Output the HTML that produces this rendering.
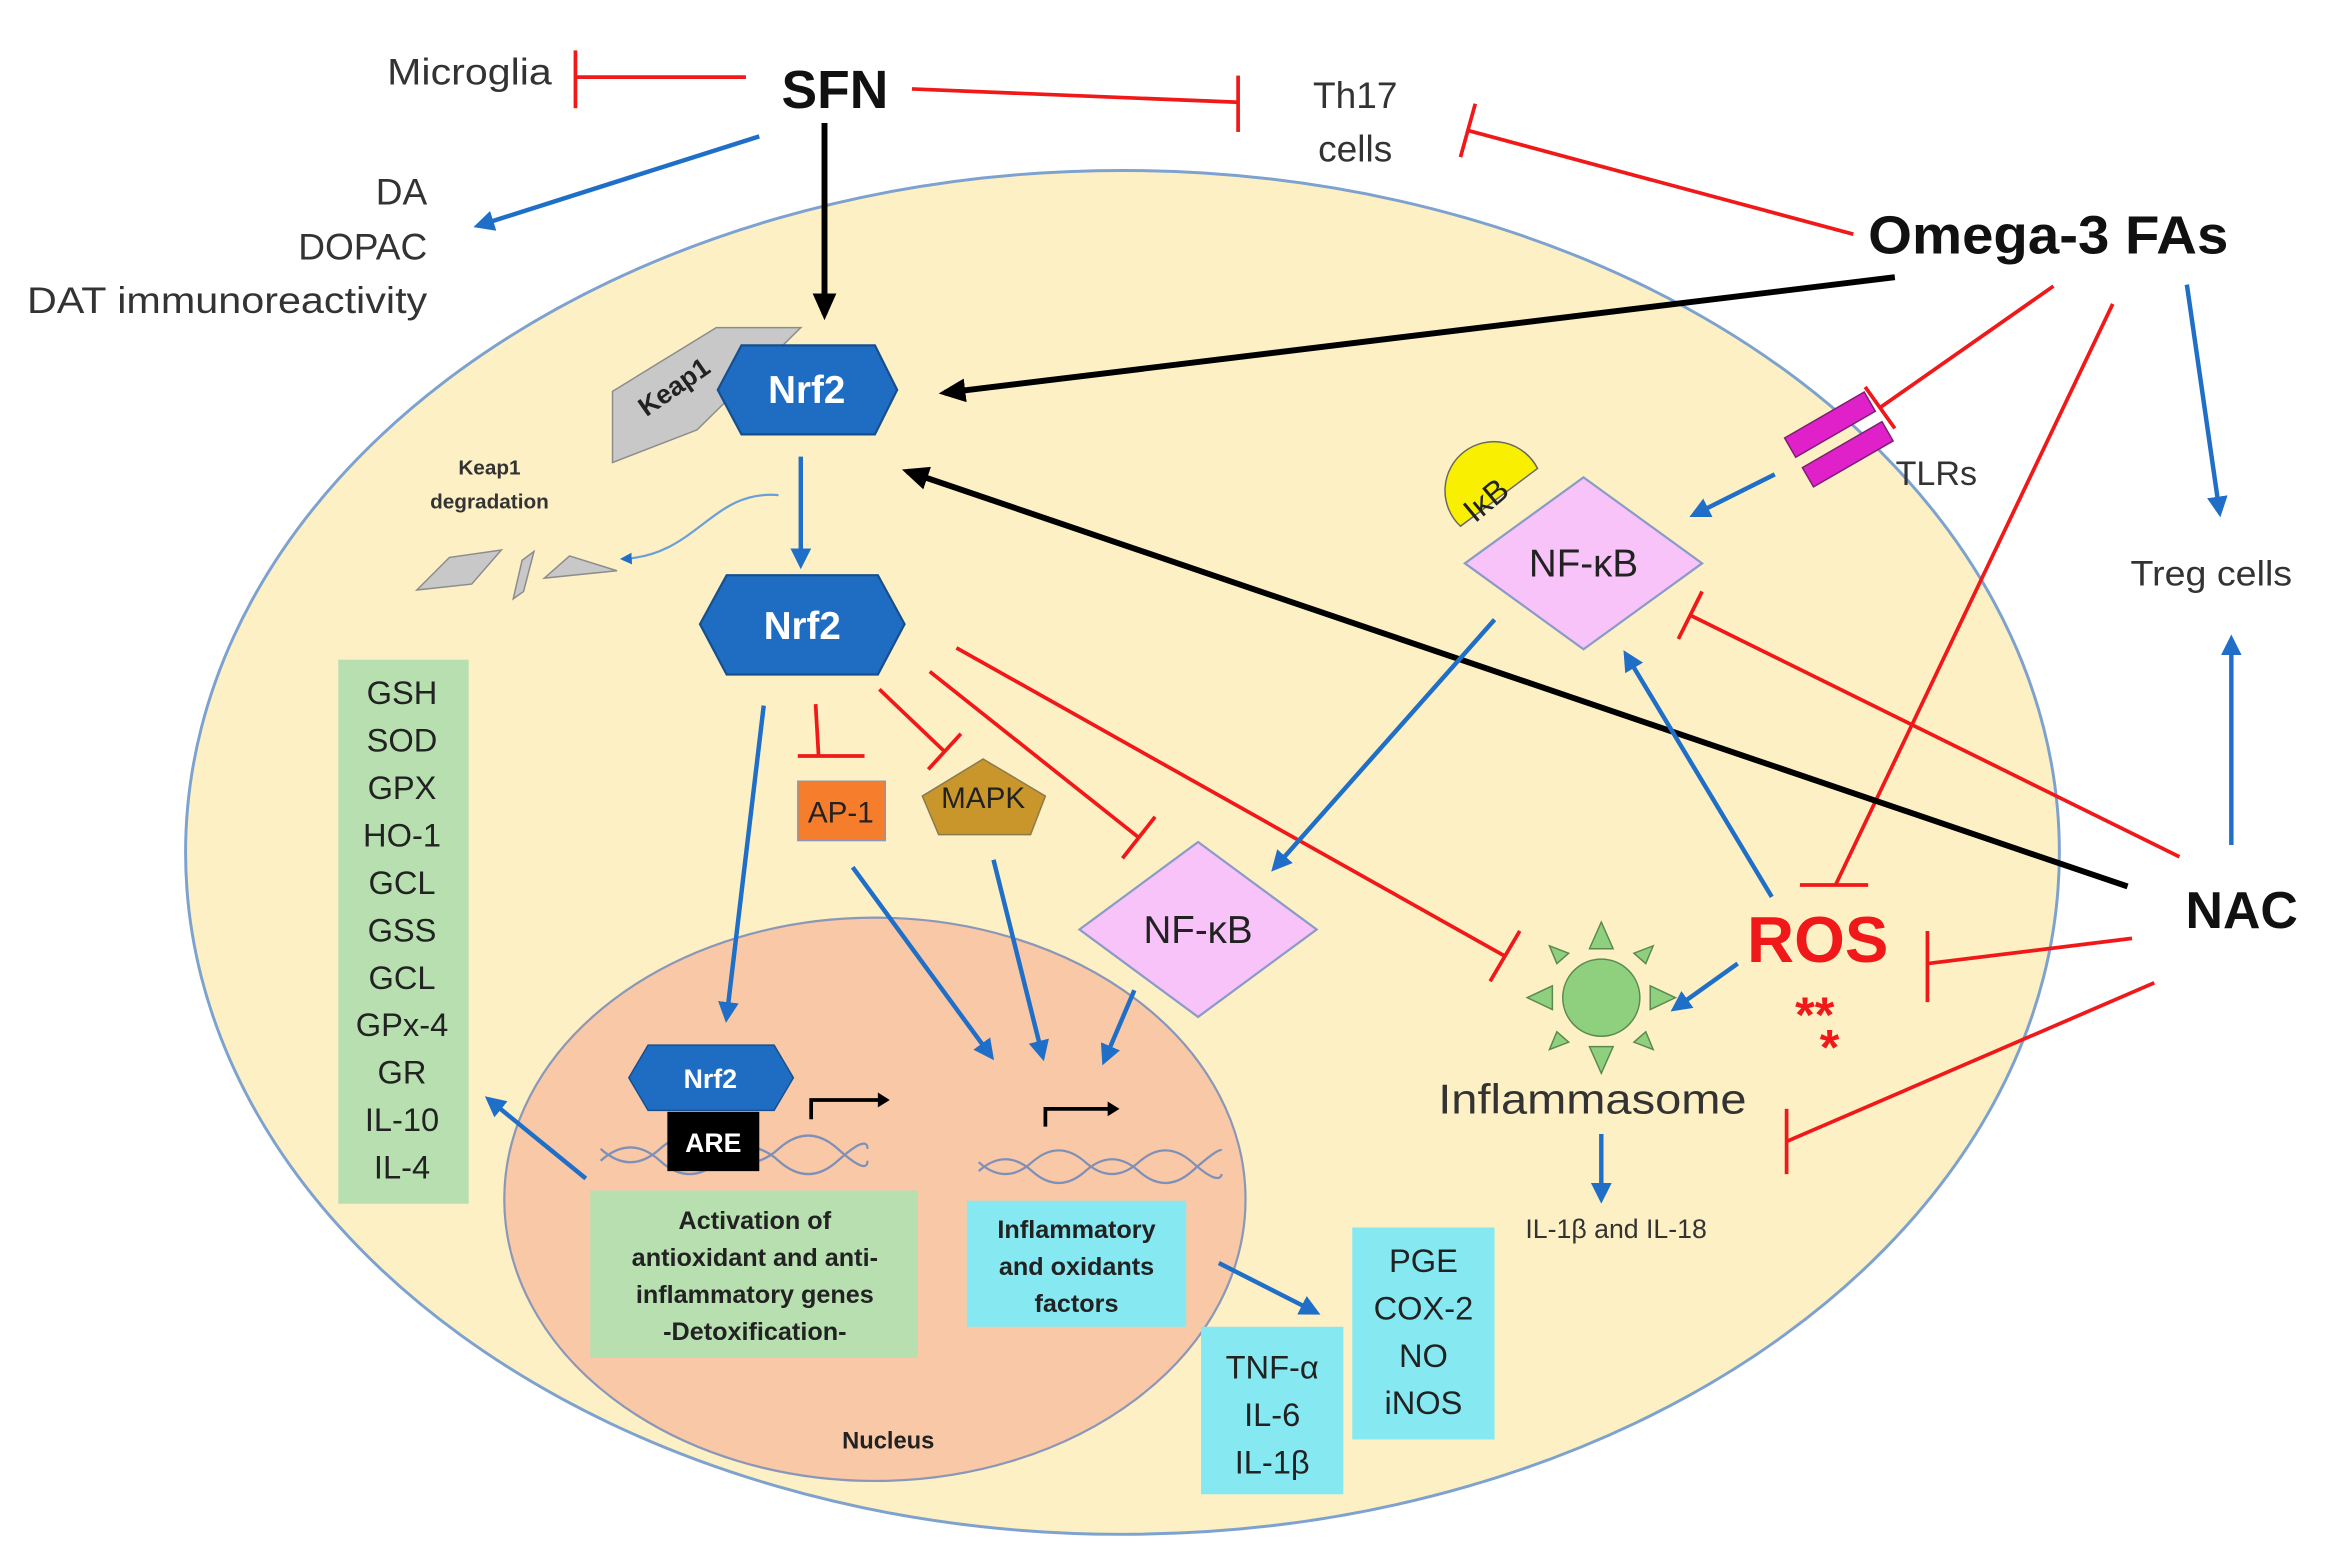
<!DOCTYPE html>
<html><head><meta charset="utf-8"><style>
html,body{margin:0;padding:0;background:#fff;}
svg{display:block;}
text{font-family:"Liberation Sans","DejaVu Sans",sans-serif;}
</style></head><body>
<svg width="2325" height="1561" viewBox="0 0 1568 1053" xmlns="http://www.w3.org/2000/svg">
<defs>
<marker id="ab" markerWidth="8" markerHeight="8" refX="6" refY="4" orient="auto" markerUnits="userSpaceOnUse" viewBox="0 0 8 8"><path d="M0,0 L8,4 L0,8 z" fill="#1f6fc8"/></marker>
<marker id="abl" markerWidth="14" markerHeight="14" refX="10" refY="7" orient="auto" markerUnits="userSpaceOnUse" viewBox="0 0 14 14"><path d="M0,0 L14,7 L0,14 z" fill="#1f6fc8"/></marker>
<marker id="ak" markerWidth="18" markerHeight="16" refX="14" refY="8" orient="auto" markerUnits="userSpaceOnUse" viewBox="0 0 18 16"><path d="M0,0 L18,8 L0,16 z" fill="#000"/></marker>
</defs>

<ellipse cx="757" cy="575" rx="632" ry="460" fill="#fdf0c4" stroke="#7da2d0" stroke-width="2"/>
<ellipse cx="590" cy="809" rx="250" ry="190" fill="#f9c8a6" stroke="#8a97b8" stroke-width="1.5"/>

<text x="563" y="73" font-size="36" font-weight="bold" text-anchor="middle" fill="#111">SFN</text>
<text x="261" y="57" font-size="25" fill="#333" textLength="111" lengthAdjust="spacingAndGlyphs">Microglia</text>
<text x="914" y="73" font-size="25" text-anchor="middle" fill="#333">Th17</text>
<text x="914" y="109" font-size="25" text-anchor="middle" fill="#333">cells</text>
<text x="1260" y="171" font-size="36" font-weight="bold" fill="#111" textLength="243" lengthAdjust="spacingAndGlyphs">Omega-3 FAs</text>
<text x="288" y="138" font-size="25" text-anchor="end" fill="#333">DA</text>
<text x="288" y="175" font-size="25" text-anchor="end" fill="#333">DOPAC</text>
<text x="18" y="211" font-size="25" fill="#333" textLength="270" lengthAdjust="spacingAndGlyphs">DAT immunoreactivity</text>
<text x="1512" y="626" font-size="35" font-weight="bold" text-anchor="middle" fill="#111">NAC</text>
<text x="1437" y="395" font-size="24" fill="#333" textLength="109" lengthAdjust="spacingAndGlyphs">Treg cells</text>
<text x="1306" y="327" font-size="23" text-anchor="middle" fill="#333">TLRs</text>

<g stroke="#f01818" stroke-width="2.5" fill="none">
<line x1="503" y1="52" x2="388" y2="52"/><line x1="388" y1="34" x2="388" y2="73"/>
<line x1="615" y1="60" x2="835" y2="69"/><line x1="835" y1="51" x2="835" y2="89"/>
<line x1="1250" y1="158" x2="990" y2="88"/><line x1="995" y1="70" x2="985" y2="106"/>
<line x1="1385" y1="193" x2="1268" y2="275"/><line x1="1278" y1="289" x2="1258" y2="261"/>
<line x1="1425" y1="205" x2="1238" y2="597"/><line x1="1214" y1="597" x2="1260" y2="597"/>
<line x1="1470" y1="578" x2="1140" y2="415"/><line x1="1148" y1="399" x2="1132" y2="431"/>
<line x1="1438" y1="633" x2="1300" y2="650"/><line x1="1300" y1="628" x2="1300" y2="676"/>
<line x1="1453" y1="663" x2="1205" y2="770"/><line x1="1205" y1="748" x2="1205" y2="792"/>
<line x1="550" y1="475" x2="552" y2="510"/><line x1="538" y1="510" x2="583" y2="510"/>
<line x1="593" y1="465" x2="637" y2="507"/><line x1="626" y1="519" x2="648" y2="495"/>
<line x1="627" y1="453" x2="768" y2="565"/><line x1="757" y1="579" x2="779" y2="551"/>
<line x1="645" y1="437" x2="1015" y2="645"/><line x1="1005" y1="662" x2="1025" y2="628"/>
</g>

<g stroke="#000" stroke-width="4" fill="none">
<line x1="556" y1="83" x2="556" y2="212" marker-end="url(#ak)"/>
<line x1="1278" y1="187" x2="637" y2="265" marker-end="url(#ak)"/>
<line x1="1435" y1="598" x2="612" y2="318" marker-end="url(#ak)"/>
</g>

<g stroke="#1f6fc8" stroke-width="3" fill="none" marker-end="url(#abl)">
<line x1="512" y1="92" x2="323" y2="152"/>
<line x1="540" y1="308" x2="540" y2="380"/>
<line x1="515" y1="476" x2="490" y2="686"/>
<line x1="575" y1="585" x2="668" y2="712"/>
<line x1="670" y1="580" x2="703" y2="712"/>
<line x1="765" y1="668" x2="745" y2="715"/>
<line x1="1008" y1="418" x2="860" y2="585"/>
<line x1="1197" y1="320" x2="1143" y2="347"/>
<line x1="1195" y1="605" x2="1097" y2="442"/>
<line x1="1172" y1="650" x2="1130" y2="680"/>
<line x1="1080" y1="765" x2="1080" y2="808"/>
<line x1="1475" y1="192" x2="1497" y2="345"/>
<line x1="1505" y1="570" x2="1505" y2="432"/>
<line x1="395" y1="795" x2="330" y2="742"/>
<line x1="822" y1="852" x2="887" y2="885"/>
</g>
<path d="M525,334 C480,330 470,375 420,377" stroke="#6a9fd8" stroke-width="1.5" fill="none" marker-end="url(#ab)"/>

<polygon points="413,264 483,221 540,221 470,290 413,312" fill="#c8c8c8" stroke="#8c8c8c" stroke-width="1"/>
<text x="458" y="266" font-size="18" font-weight="bold" fill="#222" transform="rotate(-35 458 266)" text-anchor="middle">Keap1</text>
<polygon points="484,263 500,233 590,233 605,263 590,293 500,293" fill="#1f6dc2" stroke="#174f8e" stroke-width="1.5"/>
<text x="544" y="272" font-size="26" font-weight="bold" fill="#fff" text-anchor="middle">Nrf2</text>
<polygon points="472,421 490,388 592,388 610,421 592,455 490,455" fill="#1f6dc2" stroke="#174f8e" stroke-width="1.5"/>
<text x="541" y="431" font-size="26" font-weight="bold" fill="#fff" text-anchor="middle">Nrf2</text>
<text x="330" y="320" font-size="14" font-weight="bold" fill="#333" text-anchor="middle">Keap1</text>
<text x="330" y="343" font-size="14" font-weight="bold" fill="#333" text-anchor="middle">degradation</text>
<g fill="#c8c8c8" stroke="#8c8c8c" stroke-width="1">
<polygon points="281,398 303,376 338,371 318,394"/>
<polygon points="346,404 352,378 360,372 353,399"/>
<polygon points="367,390 384,375 416,385"/>
</g>

<rect x="228" y="445" width="88" height="367" fill="#b7dfb0"/>
<g font-size="22" fill="#222" text-anchor="middle">
<text x="271" y="475">GSH</text><text x="271" y="507">SOD</text><text x="271" y="539">GPX</text>
<text x="271" y="571">HO-1</text><text x="271" y="603">GCL</text><text x="271" y="635">GSS</text>
<text x="271" y="667">GCL</text><text x="271" y="699">GPx-4</text><text x="271" y="731">GR</text>
<text x="271" y="763">IL-10</text><text x="271" y="795">IL-4</text>
</g>

<rect x="538" y="527" width="59" height="40" fill="#f57d2c" stroke="#8a97b8" stroke-width="1"/>
<text x="567" y="555" font-size="20" fill="#222" text-anchor="middle">AP-1</text>
<polygon points="622,537 663,512 705,537 695,563 633,563" fill="#c8962a" stroke="#8a7a50" stroke-width="1"/>
<text x="663" y="545" font-size="20" fill="#222" text-anchor="middle">MAPK</text>

<polygon points="728,627 808,568 888,627 808,686" fill="#f8c3f8" stroke="#8a9bc8" stroke-width="1.5"/>
<text x="808" y="636" font-size="26" fill="#222" text-anchor="middle">NF-κB</text>
<polygon points="988,380 1068,322 1148,380 1068,438" fill="#f8c3f8" stroke="#8a9bc8" stroke-width="1.5"/>
<text x="1068" y="389" font-size="26" fill="#222" text-anchor="middle">NF-κB</text>
<path d="M985,355 A33,33 0 1 1 1037,316 Z" fill="#f8f000" stroke="#666" stroke-width="1"/>
<text x="1007" y="343" font-size="22" fill="#222" text-anchor="middle" transform="rotate(-40 1007 343)">IκB</text>
<rect x="1203" y="279" width="62" height="15" fill="#e020c8" stroke="#7a2070" stroke-width="1" transform="rotate(-30 1234 286)"/>
<rect x="1215" y="299" width="62" height="15" fill="#e020c8" stroke="#7a2070" stroke-width="1" transform="rotate(-30 1246 306)"/>

<g fill="#8fd07e" stroke="#5a8a50" stroke-width="1">
<circle cx="1080" cy="673" r="26"/>
<polygon points="1072,640 1080,622 1088,640"/>
<polygon points="1072,706 1080,724 1088,706"/>
<polygon points="1047,665 1030,673 1047,681"/>
<polygon points="1113,665 1130,673 1113,681"/>
<polygon points="1050,650 1045,638 1058,643"/>
<polygon points="1110,650 1115,638 1102,643"/>
<polygon points="1050,696 1045,708 1058,703"/>
<polygon points="1110,696 1115,708 1102,703"/>
</g>
<text x="970" y="751" font-size="28" fill="#333" textLength="208" lengthAdjust="spacingAndGlyphs">Inflammasome</text>
<text x="1090" y="835" font-size="18" fill="#333" text-anchor="middle">IL-1β and IL-18</text>
<text x="1226" y="649" font-size="44" font-weight="bold" fill="#f01818" text-anchor="middle">ROS</text>
<text x="1224" y="696" font-size="34" font-weight="bold" fill="#f01818" text-anchor="middle">**</text>
<text x="1234" y="718" font-size="34" font-weight="bold" fill="#f01818" text-anchor="middle">*</text>

<g stroke="#7f90b8" stroke-width="1.5" fill="none">
<path d="M405,783 q20,-18 40,0 t40,0 t40,0 t40,0 t20,-8"/>
<path d="M405,775 q20,18 40,0 t40,0 t40,0 t40,0 t20,8"/>
<path d="M660,790 q18,-16 36,0 t36,0 t36,0 t36,0 t20,-14"/>
<path d="M660,784 q18,16 36,0 t36,0 t36,0 t36,0 t20,8"/>
</g>
<polyline points="547,755 547,742 598,742" stroke="#000" stroke-width="2.5" fill="none"/>
<polygon points="592,737 600,742 592,747" fill="#000"/>
<polyline points="705,760 705,748 752,748" stroke="#000" stroke-width="2.5" fill="none"/>
<polygon points="747,743 755,748 747,753" fill="#000"/>
<polygon points="424,727 437,705 522,705 535,727 522,749 437,749" fill="#1f6dc2" stroke="#174f8e" stroke-width="1"/>
<text x="479" y="734" font-size="18" font-weight="bold" fill="#fff" text-anchor="middle">Nrf2</text>
<rect x="450" y="750" width="62" height="40" fill="#000"/>
<text x="481" y="777" font-size="18" font-weight="bold" fill="#fff" text-anchor="middle">ARE</text>

<rect x="398" y="803" width="221" height="113" fill="#b7dfb0"/>
<g font-size="17" font-weight="bold" fill="#222" text-anchor="middle">
<text x="509" y="829">Activation of</text>
<text x="509" y="854">antioxidant and anti-</text>
<text x="509" y="879">inflammatory genes</text>
<text x="509" y="904">-Detoxification-</text>
</g>
<rect x="652" y="810" width="148" height="85" fill="#86e8f0"/>
<g font-size="17" font-weight="bold" fill="#222" text-anchor="middle">
<text x="726" y="835">Inflammatory</text><text x="726" y="860">and oxidants</text><text x="726" y="885">factors</text>
</g>
<text x="599" y="977" font-size="16" font-weight="bold" fill="#222" text-anchor="middle">Nucleus</text>
<rect x="810" y="895" width="96" height="113" fill="#86e8f0"/>
<g font-size="22" fill="#222" text-anchor="middle">
<text x="858" y="930">TNF-α</text><text x="858" y="962">IL-6</text><text x="858" y="994">IL-1β</text>
</g>
<rect x="912" y="828" width="96" height="143" fill="#86e8f0"/>
<g font-size="22" fill="#222" text-anchor="middle">
<text x="960" y="858">PGE</text><text x="960" y="890">COX-2</text><text x="960" y="922">NO</text><text x="960" y="954">iNOS</text>
</g>
</svg>
</body></html>
